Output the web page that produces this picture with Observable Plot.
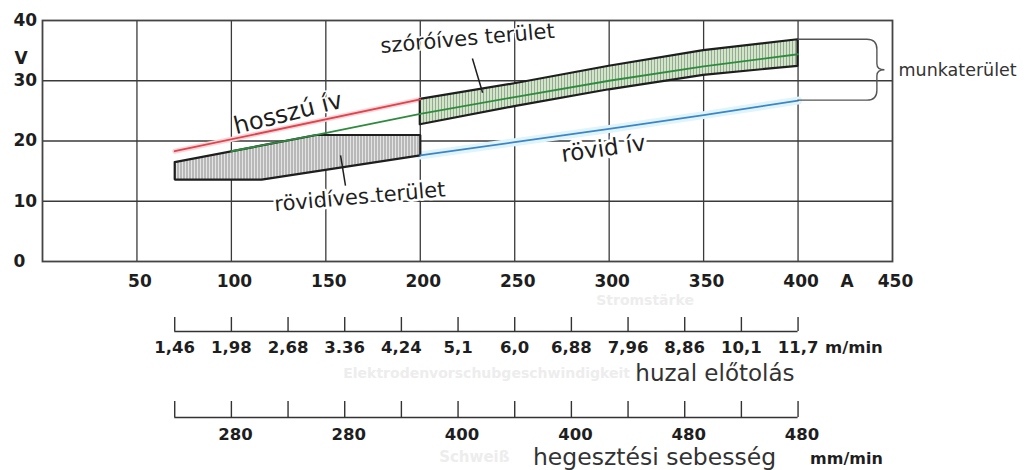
<!DOCTYPE html>
<html><head><meta charset="utf-8">
<script src="https://cdn.jsdelivr.net/npm/d3@7"></script>
<script src="https://cdn.jsdelivr.net/npm/@observablehq/plot@0.6"></script>
<style>html,body{margin:0;padding:0;background:#fff}</style>
</head><body><div id="chart"></div>
<script>
// ---- data ----
const xTicks = [50, 100, 150, 200, 250, 300, 350, 400, 450];
const yTicks = [0, 10, 20, 30, 40];
const xUnit = "A";
const yUnit = "V";

const hosszuA = [70, 200];
const hosszuV = [18.3, 26.9];

const kozepA = [100, 145, 200, 250, 300, 350, 400];
const kozepV = [18.3, 21.0, 24.5, 27.3, 30.0, 32.4, 34.4];

const rovidA = [200, 250, 300, 350, 400];
const rovidV = [17.6, 19.8, 22.0, 24.3, 26.7];

const rovidivesA = [70, 145, 200, 200, 116, 70, 70];
const rovidivesV = [16.5, 21.0, 21.0, 17.6, 13.6, 13.6, 16.5];

const szoroA = [200, 250, 300, 350, 400];
const szoroFelso = [26.9, 29.5, 32.4, 35.0, 36.8];
const szoroAlso = [22.7, 25.7, 28.5, 30.9, 32.4];

const skalaA = [70, 100, 130, 160, 190, 220, 250, 280, 310, 340, 370, 400];
const huzalElotolas = ["1,46", "1,98", "2,68", "3.36", "4,24", "5,1", "6,0", "6,88", "7,96", "8,86", "10,1", "11,7"];
const hegesztesiSebesseg = ["", "280", "", "280", "", "400", "", "400", "", "480", "", "480"];

// ---- helpers ----
const pts = (xs, ys) => xs.map((A, i) => ({A, V: ys[i]}));
const FONT = "'DejaVu Sans', Verdana, sans-serif";
const INK = "#1e1e1e";
const GRID = "#3a3a3a";

const szoro = szoroA.map((A, i) => ({A, lo: szoroAlso[i], hi: szoroFelso[i]}));
const lastA = skalaA[skalaA.length - 1];
const brace = {A: rovidA[rovidA.length - 1], top: szoroFelso[szoroFelso.length - 1], bottom: rovidV[rovidV.length - 1]};

const axis1 = 70, axis2 = 156;

const plot = Plot.plot({
  width: 1025,
  height: 470,
  marginLeft: 42,
  marginRight: 133,
  marginTop: 20,
  marginBottom: 209,
  x: {domain: [0, 450], label: null},
  y: {domain: [0, 40], label: null},
  style: {fontFamily: FONT, color: INK, background: "white", overflow: "visible"},
  marks: [
    Plot.gridX(xTicks.filter(t => t < 450), {stroke: GRID, strokeOpacity: 1, strokeWidth: 1.3}),
    Plot.gridY(yTicks.filter(t => t > 0 && t < 40), {stroke: GRID, strokeOpacity: 1, strokeWidth: 1.3}),

    // glows
    Plot.line(pts(hosszuA, hosszuV), {x: "A", y: "V", stroke: "#f8d6d8", strokeWidth: 5}),
    Plot.line(pts(rovidA, rovidV), {x: "A", y: "V", stroke: "#e0f4fc", strokeWidth: 8}),

    // rövidíves terület
    Plot.line(pts(rovidivesA, rovidivesV), {x: "A", y: "V", fill: "url(#hatchGray)", stroke: INK, strokeWidth: 2.2, strokeLinejoin: "miter"}),
    // szóróíves terület
    Plot.areaY(szoro, {x: "A", y1: "lo", y2: "hi", fill: "url(#hatchGreen)", stroke: INK, strokeWidth: 2.2}),

    Plot.line(pts(kozepA, kozepV), {x: "A", y: "V", stroke: "#2e8b3e", strokeWidth: 1.8}),
    Plot.line(pts(hosszuA, hosszuV), {x: "A", y: "V", stroke: "#e0434d", strokeWidth: 1.8}),
    Plot.line(pts(rovidA, rovidV), {x: "A", y: "V", stroke: "#3b86c6", strokeWidth: 1.8}),

    Plot.frame({stroke: "#444", strokeWidth: 1.8}),

    // axes
    Plot.axisY(yTicks, {tickSize: 0, tickPadding: 29, textAnchor: "start", fontSize: 17, fontWeight: "bold", fill: INK}),
    Plot.text([yUnit], {frameAnchor: "top-left", dx: -28, dy: 31, textAnchor: "start", fontSize: 17, fontWeight: "bold", fill: INK}),
    Plot.axisX(xTicks, {tickSize: 0, tickPadding: 13, fontSize: 17, fontWeight: "bold", fill: INK, dx: 3}),
    Plot.text([xUnit], {x: (xTicks[7] + xTicks[8]) / 2 + 1, y: 0, dy: 20, fontSize: 17, fontWeight: "bold", fill: INK}),

    // annotations
    Plot.text(["hosszú ív"], {x: 130, y: 24.6, rotate: -14, fontSize: 24, fill: INK, stroke: "white", strokeWidth: 3}),
    Plot.text(["rövid ív"], {x: 297, y: 18.7, rotate: -8, fontSize: 23, fill: INK, stroke: "white", strokeWidth: 6}),
    Plot.text(["szóróíves terület"], {x: 225, y: 37.0, rotate: -5, fontSize: 21, fill: INK, stroke: "white", strokeWidth: 3}),
    Plot.text(["rövidíves terület"], {x: 168, y: 10.7, rotate: -5, fontSize: 21, fill: INK, stroke: "white", strokeWidth: 5}),
    Plot.link([0], {x1: 227.6, y1: 33.7, x2: 233, y2: 28.0, stroke: INK, strokeWidth: 1.5}),
    Plot.link([0], {x1: 157.8, y1: 17.6, x2: 160.4, y2: 12.6, stroke: INK, strokeWidth: 1.5}),
    Plot.text(["munkaterület"], {x: 450, y: (brace.top + brace.bottom) / 2, dx: 6, textAnchor: "start", fontSize: 17.5, fill: "#333"}),

    // faint ghost texts
    Plot.text(["Stromstärke"], {x: 319, y: 0, dy: 39, fontSize: 14, fontWeight: "bold", fill: "#ededed"}),
    Plot.text(["Elektrodenvorschubgeschwindigkeit"], {x: 311, y: 0, dy: 112, textAnchor: "end", fontSize: 14, fontWeight: "bold", fill: "#ededed"}),
    Plot.text(["Schweiß"], {x: 210, y: 0, dy: 196, textAnchor: "start", fontSize: 15, fontWeight: "bold", fill: "#ededed"}),

    // huzal előtolás scale
    Plot.ruleY([0], {x1: skalaA[0], x2: lastA, dy: axis1, stroke: "#333", strokeWidth: 1.6}),
    Plot.ruleX(skalaA, {x: d => d, y1: 0, y2: 0, insetBottom: 14, dy: axis1, stroke: "#333", strokeWidth: 1.4}),
    Plot.text(skalaA, {x: d => d, y: 0, text: (d, i) => huzalElotolas[i], dy: axis1 + 16, fontSize: 16.5, fontWeight: "bold", fill: INK}),
    Plot.text(["m/min"], {x: lastA, y: 0, dx: 27, dy: axis1 + 16, textAnchor: "start", fontSize: 16.5, fontWeight: "bold", fill: INK}),
    Plot.text(["huzal előtolás"], {x: 356, y: 0, dy: axis1 + 42, fontSize: 23, fill: "#333", stroke: "white", strokeWidth: 2}),

    // hegesztési sebesség scale
    Plot.ruleY([0], {x1: skalaA[0], x2: lastA, dy: axis2, stroke: "#333", strokeWidth: 1.6}),
    Plot.ruleX(skalaA, {x: d => d, y1: 0, y2: 0, insetBottom: 16, dy: axis2, stroke: "#333", strokeWidth: 1.4}),
    Plot.text(skalaA, {x: d => d, y: 0, text: (d, i) => hegesztesiSebesseg[i], dx: 4, dy: axis2 + 17, fontSize: 16.5, fontWeight: "bold", fill: INK}),
    Plot.text(["hegesztési sebesség"], {x: 324, y: 0, dy: axis2 + 40, fontSize: 23.5, fill: "#333", stroke: "white", strokeWidth: 2}),
    Plot.text(["mm/min"], {x: 425.6, y: 0, dy: axis2 + 41, fontSize: 16, fontWeight: "bold", fill: INK})
  ]
});

// patterns
const svg = d3.select(plot);
svg.insert("defs", ":first-child").html(`
  <pattern id="hatchGray" patternUnits="userSpaceOnUse" width="3" height="4">
    <rect width="3" height="4" fill="#e4e4e4"/><rect width="1" height="4" fill="#8c8c8c"/>
  </pattern>
  <pattern id="hatchGreen" patternUnits="userSpaceOnUse" width="3" height="4">
    <rect width="3" height="4" fill="#cfe7c5"/><rect width="1" height="4" fill="#9aa79a"/>
  </pattern>`);

// curly brace ("munkaterület") using the plot's scales
const sx = plot.scale("x"), sy = plot.scale("y");
const bx0 = sx.apply(brace.A), bx1 = sx.apply(442), btip = sx.apply(446);
const byT = sy.apply(brace.top), byB = sy.apply(brace.bottom), byM = (byT + byB) / 2;
const r = 10;
const p = d3.path();
p.moveTo(bx0, byT);
p.lineTo(bx1 - r, byT);
p.quadraticCurveTo(bx1, byT, bx1, byT + r);
p.lineTo(bx1, byM - 6);
p.quadraticCurveTo(bx1, byM, btip, byM);
p.quadraticCurveTo(bx1, byM, bx1, byM + 6);
p.lineTo(bx1, byB - r);
p.quadraticCurveTo(bx1, byB, bx1 - r, byB);
p.lineTo(bx0, byB);
svg.append("path").attr("d", p.toString()).attr("fill", "none").attr("stroke", "#555").attr("stroke-width", 1.4);

document.getElementById("chart").appendChild(plot);
</script>
</body></html>
